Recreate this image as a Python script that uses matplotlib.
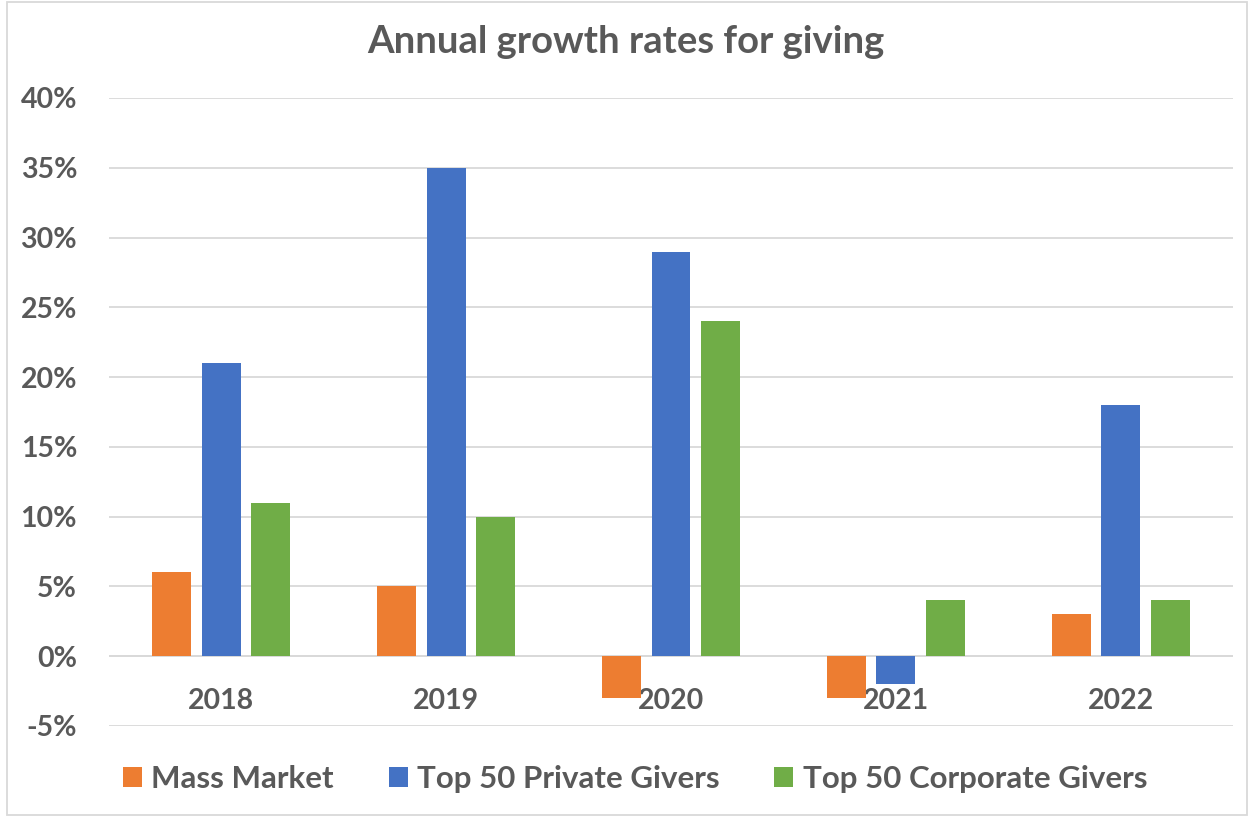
import matplotlib
matplotlib.use("Agg")
import matplotlib.pyplot as plt
from matplotlib.patches import Rectangle, Patch
import numpy as np

years = ["2018", "2019", "2020", "2021", "2022"]
mass_market = [6, 5, -3, -3, 3]
top50_private = [21, 35, 29, -2, 18]
top50_corporate = [11, 10, 24, 4, 4]
series_names = ["Mass Market", "Top 50 Private Givers", "Top 50 Corporate Givers"]
colors = ["#ED7D31", "#4472C4", "#70AD47"]
yticks = [-5, 0, 5, 10, 15, 20, 25, 30, 35, 40]

plt.rcParams['font.family'] = ['Lato', 'DejaVu Sans']
txt = "#595959"

fig = plt.figure(figsize=(12.52, 8.16), dpi=100)
ax = fig.add_axes([109/1252, 1-726/816, (1233-109)/1252, (726-98)/816])

x = np.arange(len(years))
w = 0.173
off = 0.22
for i, (vals, c, name) in enumerate(zip([mass_market, top50_private, top50_corporate], colors, series_names)):
    ax.bar(x + (i-1)*off, vals, width=w, color=c, label=name, zorder=3)

ax.set_xlim(-0.5, len(years)-0.5)
ax.set_ylim(-5, 40)
ax.set_yticks(yticks)
ax.set_yticklabels([f"{t}%" for t in yticks], fontsize=20.5, fontweight='bold', color=txt)
ax.grid(axis='y', color='#D9D9D9', linewidth=1.3, zorder=0)
ax.axhline(0, color='#D9D9D9', linewidth=1.3, zorder=2)
for s in ax.spines.values():
    s.set_visible(False)
ax.tick_params(axis='y', length=0, pad=23)
ax.spines['bottom'].set_position(('data', 0))
ax.set_xticks(x)
ax.set_xticklabels(years, fontsize=20.5, fontweight='bold', color=txt)
ax.tick_params(axis='x', length=0, pad=23)

fig.text(0.5, 1-42/816, "Annual growth rates for giving", ha='center', va='center',
         fontsize=27.5, fontweight='bold', color=txt)

handles = [Patch(facecolor=c, edgecolor='none') for c in colors]
leg = fig.legend(handles, series_names, loc='center', bbox_to_anchor=(0.5 + 9/1252, 1-779/816),
                 ncol=3, frameon=False, fontsize=22.5, handlelength=0.61, handleheight=0.61,
                 handletextpad=0.3, columnspacing=1.75)
for t in leg.get_texts():
    t.set_color(txt)
    t.set_fontweight('bold')

fig.patches.append(Rectangle((7/1252, 1-815/816), (1247-7)/1252, (815-2)/816,
                             transform=fig.transFigure, fill=False, edgecolor='#D9D9D9', linewidth=1.3))

fig.savefig("out.png", dpi=100)
